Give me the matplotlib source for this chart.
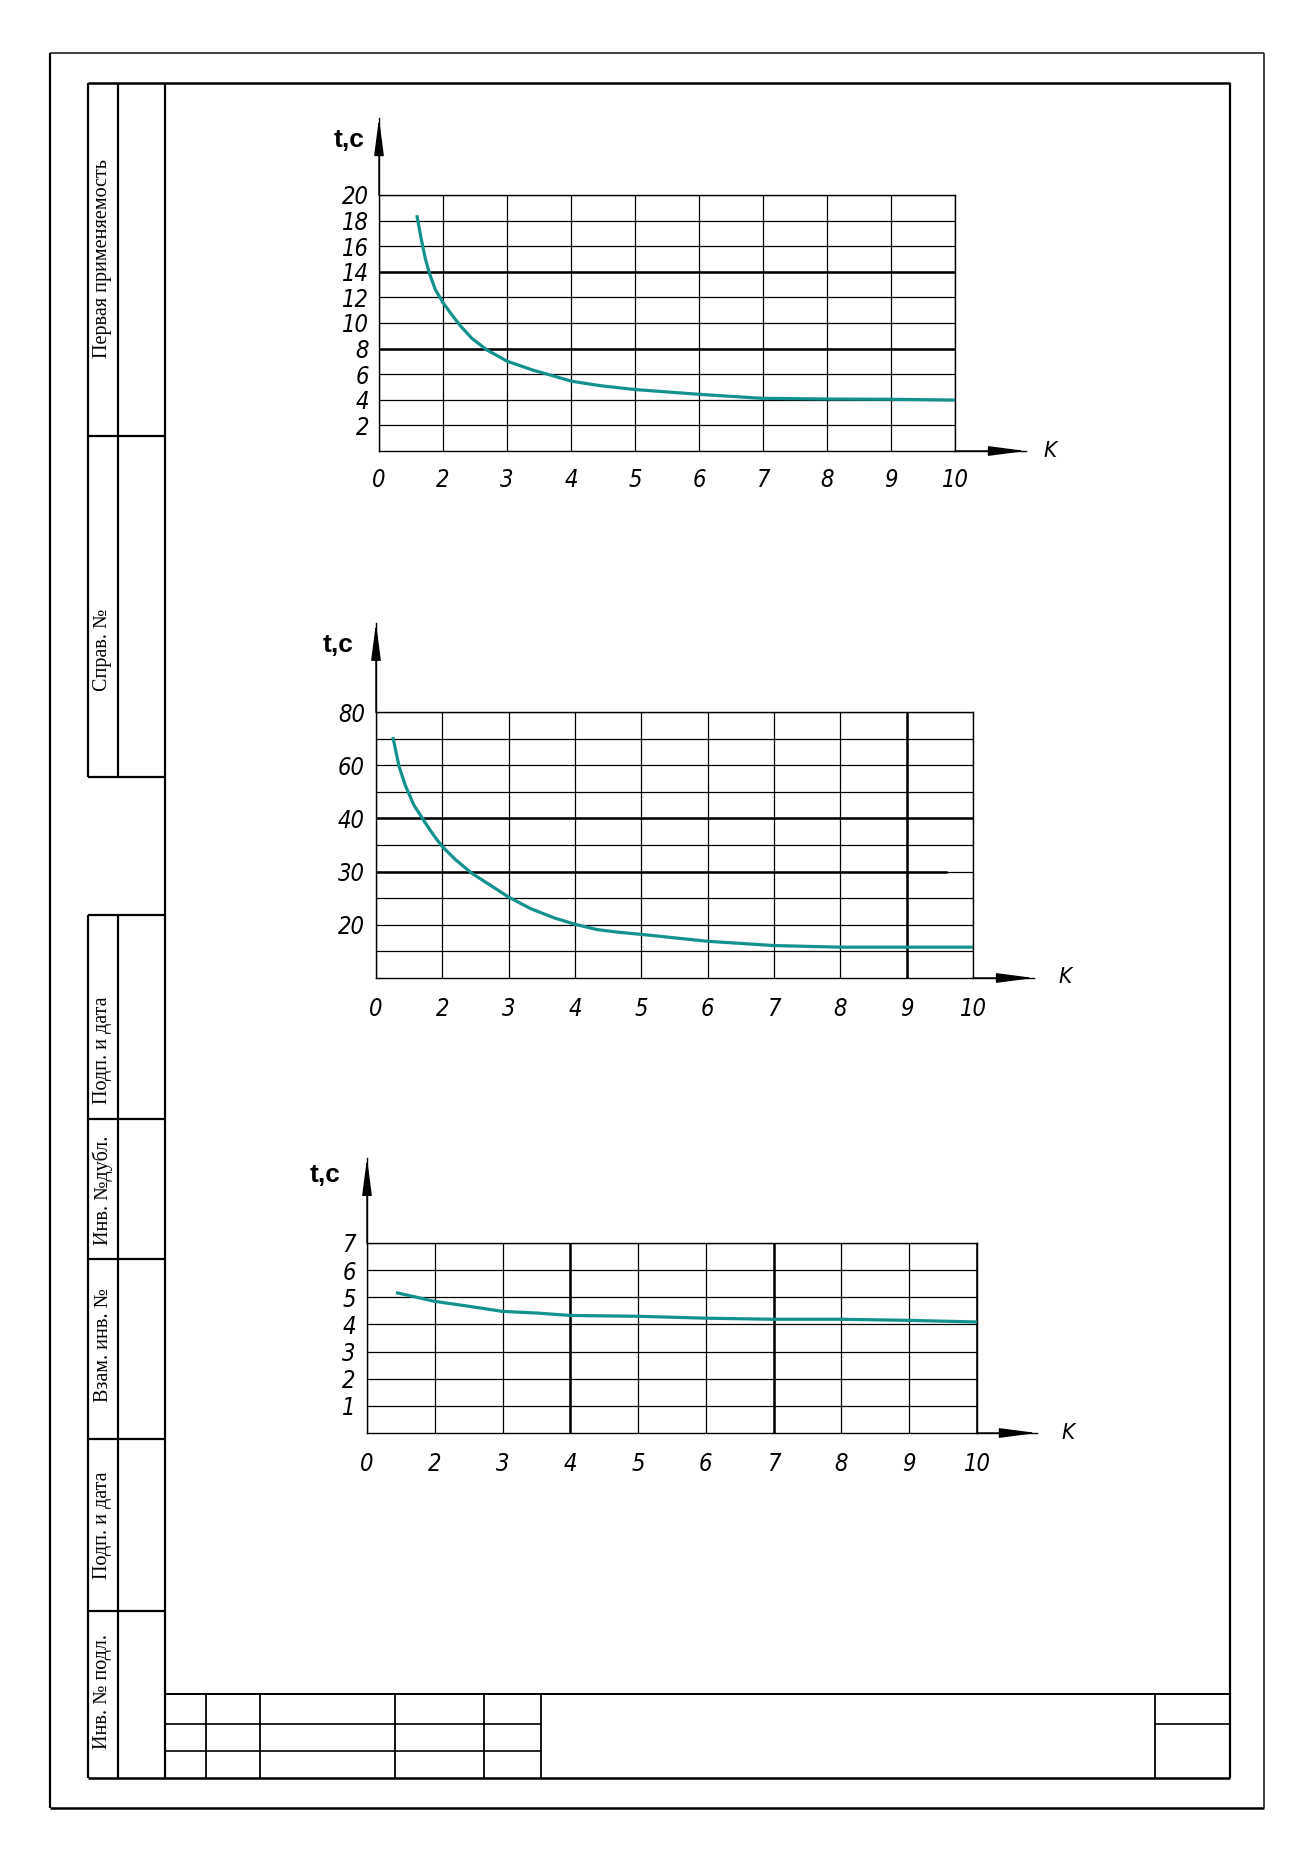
import numpy as np
import matplotlib
matplotlib.use("Agg")
import matplotlib.pyplot as plt
from matplotlib import font_manager as fm

# ---------------- data ----------------
# Chart 1
k1 = [1.596, 1.658, 1.725, 1.793, 1.881, 2.0, 2.114, 2.269, 2.451, 2.684, 3.0,
      3.409, 3.772, 4.0, 4.446, 4.731, 5.0, 6.0, 7.0, 7.5, 8.0, 9.0, 10.0]
t1 = [18.3, 16.6, 15.0, 13.8, 12.6, 11.6, 10.8, 9.8, 8.8, 7.9, 7.02,
      6.31, 5.80, 5.46, 5.11, 4.95, 4.80, 4.43, 4.11, 4.09, 4.06, 4.04, 3.98]
y1_ticks = [2, 4, 6, 8, 10, 12, 14, 16, 18, 20]
y1_thick = [14, 8]

# Chart 2 (non-uniform value axis)
k2 = [1.259, 1.348, 1.448, 1.572, 1.736, 1.871, 2.0, 2.194, 2.443, 2.741, 3.0,
      3.338, 3.687, 4.0, 4.333, 4.657, 5.0, 6.0, 7.0, 8.0, 9.0, 10.0]
t2 = [70.0, 59.5, 52.0, 45.0, 39.3, 36.8, 34.7, 32.3, 29.7, 27.3, 25.2,
      23.0, 21.3, 20.1, 19.1, 18.6, 18.2, 16.9, 16.1, 15.8, 15.8, 15.8]
y2_ticks = [20, 30, 40, 60, 80]
y2_minor = [15, 25, 35, 50, 70]
# value -> grid row of the printed scale (below 20 the 20..30 step is continued)
y2_scale_vals = [10, 20, 30, 40, 60, 80]
y2_scale_rows = [0, 2, 4, 6, 8, 10]
y2_thick = [40, 30]
x2_thick = [9]

# Chart 3
k3 = [1.45, 2.0, 2.5, 3.0, 3.5, 4.0, 5.0, 6.0, 7.0, 8.0, 9.0, 10.0]
t3 = [5.16, 4.85, 4.67, 4.48, 4.42, 4.33, 4.30, 4.23, 4.19, 4.19, 4.15, 4.09]
y3_ticks = [1, 2, 3, 4, 5, 6, 7]
x3_thick = [4, 7, 10]

x_ticks = [1, 2, 3, 4, 5, 6, 7, 8, 9, 10]
x_tick_labels = ["0", "2", "3", "4", "5", "6", "7", "8", "9", "10"]

strip_labels = ["Первая применяемость", "Справ. №", "Подп. и дата", "Инв. №дубл.",
                "Взам. инв. №", "Подп. и дата", "Инв. № подл."]
y_label = "t,c"
x_label = "K"

# ---------------- styles / fonts ----------------
W, H = 1300, 1860
CURVE = "#12918f"


def has_font(name, stretch=None):
    for f in fm.fontManager.ttflist:
        if f.name == name and (stretch is None or str(f.stretch) == stretch):
            return True
    return False


if has_font("DejaVu Sans", "condensed"):
    NUM = dict(family="DejaVu Sans", stretch="condensed", style="oblique", size=17)
elif has_font("Liberation Sans Narrow"):
    NUM = dict(family="Liberation Sans Narrow", style="italic", size=18)
else:
    NUM = dict(family="DejaVu Sans", style="oblique", size=15)
num_fp = fm.FontProperties(**NUM)
k_fp = fm.FontProperties(**{**NUM, "size": NUM["size"] - 1})
tc_fp = fm.FontProperties(family="Liberation Sans", weight="bold", size=19)
serif_fp = fm.FontProperties(family=["Liberation Serif", "DejaVu Serif"], size=14.5)

fig = plt.figure(figsize=(W / 100, H / 100), dpi=100)
fig.patch.set_facecolor("white")

# background axes in pixel coordinates for the drawing frame
bg = fig.add_axes([0, 0, 1, 1])
bg.set_xlim(0, W)
bg.set_ylim(H, 0)
bg.axis("off")


def seg(x0, y0, x1, y1, lw=1.6, color="k"):
    bg.plot([x0, x1], [y0, y1], color=color, lw=lw, solid_capstyle="butt")


# outer frame
seg(50, 53, 1264, 53, 1.3, "#333333")
seg(50, 53, 50, 1808, 1.6)
seg(50, 1808, 1264, 1808, 1.8)
seg(1264, 53, 1264, 1808, 1.3, "#333333")
# inner frame
seg(88, 83, 1230, 83, 1.8)
seg(165, 83, 165, 1778, 1.6)
seg(1230, 83, 1230, 1778, 1.6)
seg(88, 1778, 1230, 1778, 1.8)
# left strip, upper group
seg(88, 83, 88, 777, 1.6)
seg(118, 83, 118, 777, 1.6)
seg(88, 436, 165, 436, 1.6)
seg(88, 777, 165, 777, 1.6)
# left strip, lower group
strip_rows = [915, 1119, 1259, 1439, 1611]
seg(88, 915, 88, 1778, 1.6)
seg(118, 915, 118, 1778, 1.6)
for yy in strip_rows:
    seg(88, yy, 165, yy, 1.6)
# strip texts
strip_centers = [259, 650, 1050, 1190, 1345, 1525, 1691]
for txt, yc in zip(strip_labels, strip_centers):
    bg.text(103, yc, txt, rotation=90, ha="center", va="center", fontproperties=serif_fp)
# title block
seg(165, 1694, 1230, 1694, 1.4)
seg(165, 1724, 541, 1724, 1.2)
seg(165, 1751, 541, 1751, 1.2)
for xx in [206, 260, 395, 484, 541]:
    seg(xx, 1694, xx, 1778, 1.3)
seg(1155, 1694, 1155, 1778, 1.3)
seg(1155, 1724, 1230, 1724, 1.2)


def px_axes(left, top, right, bottom):
    return fig.add_axes([left / W, 1 - bottom / H, (right - left) / W, (bottom - top) / H])


def style_chart(ax, yticks, ylabels, xpad, ypad, xtip, ytip):
    ax.set_xlim(1, 10)
    ax.set_xticks(x_ticks)
    ax.set_xticklabels(x_tick_labels)
    ax.set_yticks(yticks)
    ax.set_yticklabels(ylabels)
    for lab in ax.get_xticklabels() + ax.get_yticklabels():
        lab.set_fontproperties(num_fp)
    ax.tick_params(axis="both", which="both", length=0)
    ax.tick_params(axis="x", pad=xpad)
    ax.tick_params(axis="y", pad=ypad)
    ax.grid(True, which="both", color="k", lw=0.9)
    ax.set_axisbelow(True)
    for s in ax.spines.values():
        s.set_linewidth(1.0)
        s.set_color("k")
    ax.set_facecolor("white")
    # axis arrows
    ax.plot([0, 0], [1, ytip], transform=ax.transAxes, color="k", lw=1.0, clip_on=False)
    ax.plot([1, xtip], [0, 0], transform=ax.transAxes, color="k", lw=1.0, clip_on=False)
    arr = dict(arrowstyle="-|>,head_length=2.3,head_width=0.3", color="k", lw=1.0,
               mutation_scale=10, shrinkA=0, shrinkB=0)
    ax.annotate("", xy=(0, ytip), xytext=(0, 1), xycoords="axes fraction",
                textcoords="axes fraction", arrowprops=arr, annotation_clip=False)
    ax.annotate("", xy=(xtip, 0), xytext=(1, 0), xycoords="axes fraction",
                textcoords="axes fraction", arrowprops=arr, annotation_clip=False)


# ---------------- chart 1 ----------------
ax1 = px_axes(379, 195, 955, 451)
ax1.set_ylim(0, 20)
style_chart(ax1, y1_ticks, [str(v) for v in y1_ticks], 12, 7, 1.123, 1.30)
for v in y1_thick:
    ax1.axhline(v, color="k", lw=1.8, zorder=1.5)
ax1.plot(k1, t1, color=CURVE, lw=2.3, zorder=3, solid_joinstyle="round")

# ---------------- chart 2 ----------------
ax2 = px_axes(376, 712, 973, 978)
fwd = lambda v: np.interp(v, y2_scale_vals, y2_scale_rows)
inv = lambda r: np.interp(r, y2_scale_rows, y2_scale_vals)
ax2.set_yscale("function", functions=(fwd, inv))
ax2.set_ylim(10, 80)
style_chart(ax2, y2_ticks, [str(v) for v in y2_ticks], 14, 8, 1.102, 1.335)
ax2.set_yticks(y2_minor, minor=True)
ax2.grid(True, which="minor", color="k", lw=0.9)
ax2.axhline(y2_thick[0], color="k", lw=1.8, zorder=1.5)
ax2.axhline(y2_thick[1], xmin=0, xmax=(9.6 - 1) / 9, color="k", lw=1.8, zorder=1.5)
for v in x2_thick:
    ax2.axvline(v, color="k", lw=1.8, zorder=1.5)
ax2.plot(k2, t2, color=CURVE, lw=2.3, zorder=3, solid_joinstyle="round")

# ---------------- chart 3 ----------------
ax3 = px_axes(367, 1243, 977, 1433)
ax3.set_ylim(0, 7)
style_chart(ax3, y3_ticks, [str(v) for v in y3_ticks], 14, 8, 1.098, 1.447)
for v in x3_thick:
    ax3.axvline(v, color="k", lw=1.8, zorder=1.5)
ax3.plot(k3, t3, color=CURVE, lw=2.3, zorder=3, solid_joinstyle="round")

# axis titles (pixel positions on the sheet)
for (xx, yy) in [(349, 140), (338, 645), (325, 1175)]:
    bg.text(xx, yy, y_label, ha="center", va="center", fontproperties=tc_fp)
for (xx, yy) in [(1050, 451), (1065, 977), (1068, 1433)]:
    bg.text(xx, yy, x_label, ha="center", va="center", fontproperties=k_fp)

fig.savefig("out.png", dpi=100, facecolor="white")
